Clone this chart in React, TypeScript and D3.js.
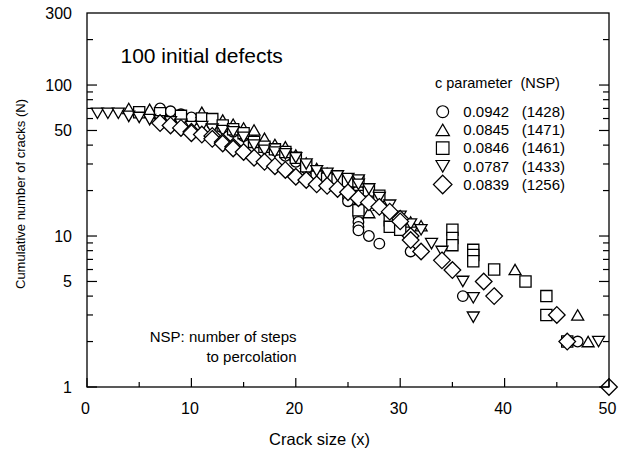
import * as d3 from "d3";
import React, { useRef, useEffect } from "react";

const W = 623,
  H = 452;
const margin = { top: 13, right: 14, bottom: 65, left: 87 };
const width = W - margin.left - margin.right;
const height = H - margin.top - margin.bottom;

const xTickValues = [0, 10, 20, 30, 40, 50];
const yTickLabels = [1, 5, 10, 50, 100, 300];

// [crack size, cumulative number of cracks]
const circleData = [
  [7, 70], [8, 67], [9, 64], [10, 61], [11, 58], [12, 55], [13, 52], [14, 49],
  [15, 46], [16, 43], [17, 40], [18, 37], [19, 34], [20, 31], [21, 28], [22, 26],
  [23, 25], [24, 24], [25, 18], [25, 17], [26, 15.6], [26, 14.5], [26, 13.4],
  [26, 12.4], [26, 11.5], [26, 10.9], [27, 10], [28, 8.9], [31, 7.9], [36, 4],
  [46, 2], [47, 2],
];
const triangleData = [
  [4, 70], [6, 69], [11, 66], [13, 58.6], [14, 55], [15, 52], [16, 50.4],
  [17, 44.4], [18, 40.4], [19, 39], [20, 34.4], [21, 30.4], [22, 28], [23, 26],
  [24, 24], [25, 22.5], [26, 21.7], [27, 19.6], [27, 14.3], [28, 16], [29, 15],
  [30, 13.5], [31, 12.4], [32, 11.7], [41, 6], [47, 3], [48, 2],
];
const squareData = [
  [5, 66], [7, 65], [9, 62.5], [11, 60], [12, 59.5], [13, 54], [14, 51],
  [15, 48], [16, 42], [17, 39], [18, 37.5], [19, 36], [20, 33], [21, 29],
  [22, 24.7], [23, 24], [24, 23.5], [25, 23], [26, 23], [26, 14.8], [27, 20],
  [28, 18.5], [29, 12.7], [29, 11.5], [30, 11], [35, 11], [35, 9.7], [35, 8.7],
  [37, 8.1], [37, 7.5], [37, 6.8], [39, 6], [42, 5], [44, 4], [44, 3], [46, 2],
];
const downTriData = [
  [1, 65], [2, 65], [3, 65], [4, 62], [5, 61], [6, 59], [7, 58], [8, 57],
  [9, 55], [10, 53], [11, 53], [12, 51], [13, 50], [14, 49], [15, 45], [16, 40],
  [17, 37], [18, 36], [19, 35], [20, 33], [21, 30], [22, 27], [23, 26], [24, 25],
  [25, 24], [26, 23.5], [26, 22], [27, 20.5], [28, 18], [29, 16], [30, 13.5],
  [31, 12], [32, 11], [33, 8.9], [34, 7.9], [36, 5], [37, 3.9], [37, 2.9], [49, 2],
];
const diamondData = [
  [7, 56], [8, 54], [9, 52], [10, 49], [10, 48], [11, 47], [12, 46], [12, 44],
  [13, 42], [13, 41], [14, 39], [14, 38], [15, 36], [16, 33], [17, 31], [18, 29],
  [19, 27.4], [20, 24.7], [21, 23.5], [22, 22], [23, 21.5], [24, 20.5],
  [25, 19.5], [26, 17.8], [27, 16.7], [28, 15.6], [29, 14.5], [30, 13],
  [30, 12.5], [31, 10], [31, 9.4], [32, 7.9], [34, 6.9], [35, 5.95], [38, 5],
  [39, 4], [45, 3], [46, 2], [50, 1],
];

const cParams = ["0.0942", "0.0845", "0.0846", "0.0787", "0.0839"];
const nspValues = ["(1428)", "(1471)", "(1461)", "(1433)", "(1256)"];
const shapes = ["circle", "triangle", "square", "downTriangle", "diamond"];
const seriesData = [circleData, triangleData, squareData, downTriData, diamondData];

function shapePath(kind: string, k: number) {
  const p = d3.path();
  if (kind === "circle") {
    const r = 5.3 * k;
    p.arc(0, 0, r, 0, Math.PI * 2);
  } else if (kind === "square") {
    const s = 5.6 * k;
    p.rect(-s, -s, 2 * s, 2 * s);
  } else if (kind === "triangle" || kind === "downTriangle") {
    const a = 6 * k,
      h = 5.2 * k,
      d = kind === "triangle" ? 1 : -1;
    p.moveTo(0, -h * d);
    p.lineTo(a, h * d);
    p.lineTo(-a, h * d);
    p.closePath();
  } else {
    const r = 8.3 * k;
    p.moveTo(0, -r);
    p.lineTo(r, 0);
    p.lineTo(0, r);
    p.lineTo(-r, 0);
    p.closePath();
  }
  return p.toString();
}

function CrackChart() {
  const ref = useRef<SVGSVGElement>(null);

  useEffect(() => {
    const svg = d3.select(ref.current);
    svg.selectAll("*").remove();
    const font = "'Liberation Sans', Arial, Helvetica, sans-serif";

    const x = d3.scaleLinear().domain([0, 50]).range([0, width]);
    const y = d3.scaleLog().domain([1, 300]).range([height, 0]);

    const g = svg
      .append("g")
      .attr("transform", `translate(${margin.left},${margin.top})`);

    // markers
    seriesData.forEach((data, i) => {
      g.append("g")
        .selectAll("path")
        .data(data)
        .enter()
        .append("path")
        .attr("transform", (d) => `translate(${x(d[0])},${y(d[1])})`)
        .attr("d", shapePath(shapes[i], 1))
        .attr("fill", "white")
        .attr("stroke", "black")
        .attr("stroke-width", 1.3);
    });

    // frame
    g.append("rect")
      .attr("width", width)
      .attr("height", height)
      .attr("fill", "none")
      .attr("stroke", "black")
      .attr("stroke-width", 1.3);

    // y ticks (both sides, inward)
    const yTicks: number[] = [];
    [1, 10, 100].forEach((dec) => {
      for (let k = 1; k <= 9; k++) if (dec * k < 300) yTicks.push(dec * k);
    });
    yTicks.forEach((t) => {
      const long = yTickLabels.includes(t);
      const len = long ? 10 : 6;
      g.append("line")
        .attr("x1", 0).attr("x2", len)
        .attr("y1", y(t)).attr("y2", y(t))
        .attr("stroke", "black").attr("stroke-width", 1.2);
      g.append("line")
        .attr("x1", width).attr("x2", width - len)
        .attr("y1", y(t)).attr("y2", y(t))
        .attr("stroke", "black").attr("stroke-width", 1.2);
    });

    // x ticks (bottom, inward)
    d3.range(0, 51, 5).forEach((t) => {
      const len = t % 10 === 0 ? 9 : 5;
      g.append("line")
        .attr("x1", x(t)).attr("x2", x(t))
        .attr("y1", height).attr("y2", height - len)
        .attr("stroke", "black").attr("stroke-width", 1.2);
    });

    // tick labels
    g.selectAll(".ylab")
      .data(yTickLabels)
      .enter()
      .append("text")
      .attr("x", -15)
      .attr("y", (d) => y(d))
      .attr("dy", "0.36em")
      .attr("text-anchor", "end")
      .attr("font-family", font)
      .attr("font-size", 16)
      .text((d) => d);

    g.selectAll(".xlab")
      .data(xTickValues)
      .enter()
      .append("text")
      .attr("x", (d) => x(d) - 1.5)
      .attr("y", height + 27)
      .attr("text-anchor", "middle")
      .attr("font-family", font)
      .attr("font-size", 16)
      .text((d) => d);

    // axis titles
    svg.append("text")
      .attr("x", 319.5)
      .attr("y", 445)
      .attr("text-anchor", "middle")
      .attr("font-family", font)
      .attr("font-size", 16.5)
      .text("Crack size (x)");

    svg.append("text")
      .attr("transform", `translate(25,194) rotate(-90)`)
      .attr("text-anchor", "middle")
      .attr("font-family", font)
      .attr("font-size", 13)
      .text("Cumulative number of cracks (N)");

    // annotations
    svg.append("text")
      .attr("x", 120.5)
      .attr("y", 63)
      .attr("font-family", font)
      .attr("font-size", 21)
      .text("100 initial defects");

    const nsp = svg.append("text")
      .attr("text-anchor", "end")
      .attr("font-family", font)
      .attr("font-size", 15);
    nsp.append("tspan").attr("x", 296.5).attr("y", 342).text("NSP: number of steps");
    nsp.append("tspan").attr("x", 296.5).attr("y", 362).text("to percolation");

    // legend
    const leg = svg.append("g").attr("font-family", font);
    leg.append("text")
      .attr("x", 435)
      .attr("y", 88)
      .attr("font-size", 14.5)
      .attr("xml:space", "preserve")
      .text("c parameter  (NSP)");

    cParams.forEach((c, i) => {
      const cy = 111.7 + i * 18.2;
      leg.append("path")
        .attr("transform", `translate(442.7,${cy})`)
        .attr("d", shapePath(shapes[i], 1.12))
        .attr("fill", "white")
        .attr("stroke", "black")
        .attr("stroke-width", 1.2);
      leg.append("text")
        .attr("x", 463.3)
        .attr("y", cy + 5.3)
        .attr("font-size", 15)
        .text(c);
      leg.append("text")
        .attr("x", 521.7)
        .attr("y", cy + 5.3)
        .attr("font-size", 15)
        .text(nspValues[i]);
    });
  }, []);

  return (
    <svg
      ref={ref}
      width={W}
      height={H}
      style={{ position: "absolute", left: 0, top: 0, background: "white" }}
    ></svg>
  );
}

export default function App() {
  return <CrackChart />;
}
